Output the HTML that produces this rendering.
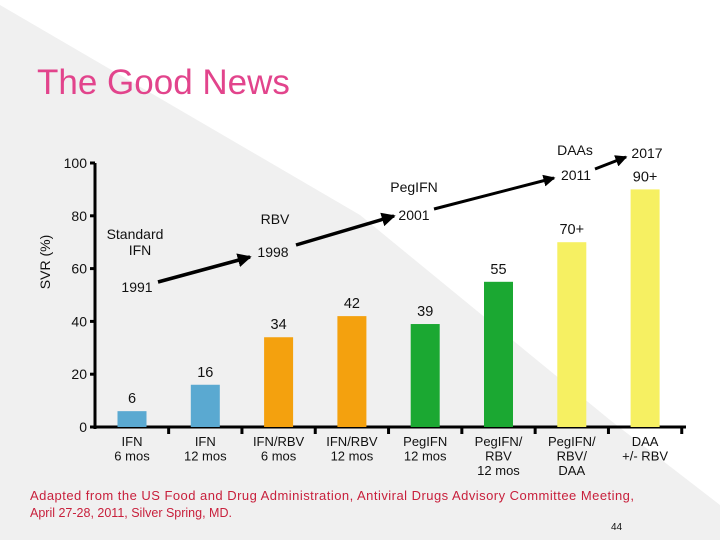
<!DOCTYPE html>
<html><head><meta charset="utf-8"><style>
html,body{margin:0;padding:0;background:#fff}
svg{display:block;font-family:"Liberation Sans",sans-serif}
</style></head><body>
<svg id="c" width="720" height="540" viewBox="0 0 720 540">
<defs>
<marker id="ah" markerWidth="4" markerHeight="4" refX="3.5" refY="2" orient="auto" markerUnits="strokeWidth"><path d="M0,0 L4,2 L0,4 z" fill="#000"/></marker>
</defs>
<polygon points="0,5 360,215 610,420 720,505 720,540 0,540" fill="#f0f0f0"/>
<text x="37" y="94" font-size="35" fill="#e2448c">The Good News</text>
<text transform="translate(50,262) rotate(-90)" text-anchor="middle" font-size="14" fill="#111">SVR (%)</text>
<g id="axes"></g>
<g id="bars"></g>
<g font-size="14" fill="#111" text-anchor="middle">
<text x="135" y="239">Standard</text><text x="140" y="255">IFN</text>
<text x="137" y="292">1991</text>
<text x="275" y="224">RBV</text><text x="273" y="257">1998</text>
<text x="414" y="192">PegIFN</text><text x="414" y="220">2001</text>
<text x="575" y="155">DAAs</text><text x="576" y="180">2011</text>
<text x="647" y="158">2017</text>
<line x1="158" y1="282" x2="250" y2="257" stroke="#000" stroke-width="3.5" marker-end="url(#ah)"/>
<line x1="296" y1="245" x2="394" y2="216" stroke="#000" stroke-width="3.5" marker-end="url(#ah)"/>
<line x1="434" y1="209" x2="554" y2="178" stroke="#000" stroke-width="3" marker-end="url(#ah)"/>
<line x1="595" y1="169" x2="626" y2="157" stroke="#000" stroke-width="3" marker-end="url(#ah)"/>
</g>
<text x="30" y="500" font-size="13" fill="#c8203c" textLength="604">Adapted from the US Food and Drug Administration, Antiviral Drugs Advisory Committee Meeting,</text>
<text x="30" y="517" font-size="12.5" fill="#c8203c">April 27-28, 2011, Silver Spring, MD.</text>
<text x="611" y="530" font-size="10" fill="#111">44</text>
</svg>
<script>
const categories=[["IFN","6 mos"],["IFN","12 mos"],["IFN/RBV","6 mos"],["IFN/RBV","12 mos"],["PegIFN","12 mos"],["PegIFN/","RBV","12 mos"],["PegIFN/","RBV/","DAA"],["DAA","+/- RBV"]];
const svrValues=[6,16,34,42,39,55,70,90];
const valueLabels=["6","16","34","42","39","55","70+","90+"];
const barColors=["#5aa9d1","#5aa9d1","#f4a10e","#f4a10e","#1ba832","#1ba832","#f6f062","#f6f062"];
const yTicks=[0,20,40,60,80,100];
const NS="http://www.w3.org/2000/svg";
const x0=95,step=73.3,bw=29,y0=427,ppu=2.64;
function xC(i){return 132+step*i;}
function yS(v){return y0-v*ppu;}
function mk(t,a,p){const e=document.createElementNS(NS,t);for(const k in a)e.setAttribute(k,a[k]);p.appendChild(e);return e;}
const ax=document.getElementById('axes'),bg=document.getElementById('bars');
const yl=mk('line',{x1:x0,y1:yS(100),x2:x0,y2:y0+2,stroke:'#000','stroke-width':3},ax);


const xl=mk('line',{x1:x0,y1:y0,x2:686,y2:y0,stroke:'#000','stroke-width':3},ax);


yTicks.forEach(v=>{
  mk('line',{x1:x0-5,y1:yS(v),x2:x0,y2:yS(v),stroke:'#000','stroke-width':3},ax);
  const t=mk('text',{x:x0-8,y:yS(v)+5,'text-anchor':'end','font-size':14,fill:'#111'},ax);
  t.textContent=v;
  
  
});
categories.forEach((c,i)=>{
  const tx=xC(i)+step/2;
  mk('line',{x1:tx,y1:y0,x2:tx,y2:y0+7,stroke:'#000','stroke-width':3},ax);
  const h=svrValues[i]*ppu;
  const r=mk('rect',{x:xC(i)-bw/2,y:y0-h,width:bw,height:h,fill:barColors[i]},bg);
  
  
  const vl=mk('text',{x:xC(i),y:y0-h-8,'text-anchor':'middle','font-size':14.5,fill:'#111'},bg);
  vl.textContent=valueLabels[i];
  
  
  const g=mk('text',{'text-anchor':'middle','font-size':13,fill:'#111'},ax);
  
  
  c.forEach((s,j)=>{const ts=mk('tspan',{x:xC(i),y:y0+19+j*14.5},g);ts.textContent=s;});
});
</script>
</body></html>
